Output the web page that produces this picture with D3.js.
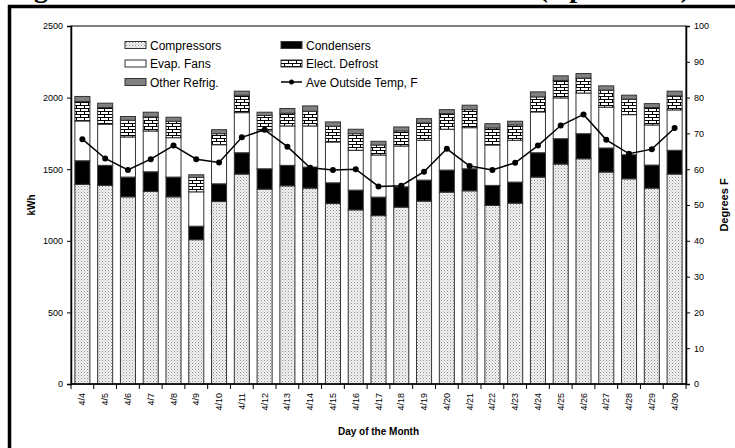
<!DOCTYPE html>
<html>
<head>
<meta charset="utf-8">
<script src="https://cdn.jsdelivr.net/npm/d3@7"></script>
<style>
  html, body { margin: 0; padding: 0; background: #fff; }
  svg { display: block; }
  text { font-family: "Liberation Sans", Arial, sans-serif; fill: #000; }
</style>
</head>
<body>
<svg id="chart" width="735" height="448"></svg>
<script>
// ---- data ----
const days = ["4/4","4/5","4/6","4/7","4/8","4/9","4/10","4/11","4/12","4/13","4/14","4/15","4/16","4/17","4/18","4/19","4/20","4/21","4/22","4/23","4/24","4/25","4/26","4/27","4/28","4/29","4/30"];
const compressors = [1394,1387,1307,1345,1307,1008,1274,1466,1361,1384,1368,1260,1216,1176,1235,1277,1340,1349,1247,1263,1445,1536,1573,1480,1433,1368,1466];
const condensers  = [165,140,138,137,138,94,124,149,142,143,147,145,138,129,142,147,154,154,140,147,170,177,175,168,168,161,166];
const evapFans    = [278,287,280,285,275,240,273,280,264,275,287,285,278,294,285,278,285,287,282,292,285,285,284,285,280,280,282];
const elecDefrost = [136,117,117,98,115,101,77,122,108,89,103,110,116,70,105,121,109,126,119,107,105,122,104,119,108,122,98];
const otherRefrig = [35,30,26,33,28,18,28,28,23,33,37,30,31,26,28,30,28,31,30,26,35,32,32,30,28,27,33];
const aveTemp     = [68.4,63.0,59.8,62.8,66.6,62.8,61.9,68.9,71.0,66.3,60.4,59.8,60.0,55.2,55.4,59.3,65.7,60.9,59.8,61.8,66.6,72.2,75.3,68.2,64.3,65.6,71.5];
const seriesNames = ["Compressors","Condensers","Evap. Fans","Elect. Defrost","Other Refrig."];
const lineName = "Ave Outside Temp, F";
const kwhTicks = [0,500,1000,1500,2000,2500];
const degTicks = [0,10,20,30,40,50,60,70,80,90,100];
const titleText = "Figure 4. Total Electric Loads at the Store (April 2003)";

// ---- layout ----
const svg = d3.select("#chart");
const L = 71, R = 686, T = 26, B = 384;

const defs = svg.append("defs");
const pStip = defs.append("pattern").attr("id","stip").attr("patternUnits","userSpaceOnUse")
  .attr("width",3).attr("height",3);
pStip.append("rect").attr("width",3).attr("height",3).attr("fill","#f4f4f4");
pStip.append("rect").attr("x",0).attr("y",0).attr("width",1).attr("height",1).attr("fill","#8a8a8a");
pStip.append("rect").attr("x",1.5).attr("y",1.5).attr("width",1).attr("height",1).attr("fill","#a8a8a8");
const pBrick = defs.append("pattern").attr("id","brick").attr("patternUnits","userSpaceOnUse")
  .attr("width",8).attr("height",6);
pBrick.append("rect").attr("width",8).attr("height",6).attr("fill","#fff");
pBrick.append("path").attr("d","M0,0.5H8M0,3.5H8M0.5,0.5V3.5M4.5,3.5V6.5")
  .attr("stroke","#000").attr("stroke-width",1).attr("fill","none");

const fills = ["url(#stip)","#000","#fff","url(#brick)","#808080"];

// title (mostly above the page, only descenders peek through)
svg.append("text").attr("x",8).attr("y",-3)
  .attr("textLength",682).attr("lengthAdjust","spacing")
  .style("font-family","'Liberation Serif', 'Times New Roman', serif")
  .style("font-weight","bold").style("font-size","28px")
  .text(titleText);

// outer frame
svg.append("rect").attr("x",9.5).attr("y",6.5).attr("width",800).attr("height",600)
  .attr("fill","none").attr("stroke","#000").attr("stroke-width",3.5);

const x = d3.scaleBand().domain(days).range([L, R]).paddingInner(0.34).paddingOuter(0.17);
const xb = d3.scaleBand().domain(days).range([L, R]);
const y = d3.scaleLinear().domain([0,2500]).range([B, T]);
const y2 = d3.scaleLinear().domain([0,100]).range([B, T]);

svg.append("rect").attr("x",L).attr("y",T).attr("width",R-L).attr("height",B-T)
  .attr("fill","none").attr("stroke","#000").attr("stroke-width",1);

const rows = days.map((d,i)=>({day:d, "Compressors":compressors[i], "Condensers":condensers[i],
  "Evap. Fans":evapFans[i], "Elect. Defrost":elecDefrost[i], "Other Refrig.":otherRefrig[i]}));
const stack = d3.stack().keys(seriesNames)(rows);
stack.forEach((s,k)=>{
  svg.append("g").selectAll("rect").data(s).join("rect")
    .attr("x", d=>x(d.data.day)).attr("width", x.bandwidth())
    .attr("y", d=>y(d[1])).attr("height", d=>y(d[0])-y(d[1]))
    .attr("fill", fills[k]).attr("stroke","#333").attr("stroke-width",1);
});

const cx = d => xb(d) + xb.bandwidth()/2;
svg.append("path").datum(aveTemp)
  .attr("d", d3.line().x((v,i)=>cx(days[i])).y(v=>y2(v)))
  .attr("fill","none").attr("stroke","#000").attr("stroke-width",1.5);
svg.append("g").selectAll("circle").data(aveTemp).join("circle")
  .attr("cx",(v,i)=>cx(days[i])).attr("cy",v=>y2(v)).attr("r",3).attr("fill","#000");

const ga = svg.append("g").attr("transform",`translate(${L},0)`)
  .call(d3.axisLeft(y).tickValues(kwhTicks).tickFormat(d3.format("d")).tickSize(4).tickPadding(4));
ga.select(".domain").attr("stroke","#000").attr("stroke-width",1.5);
ga.selectAll("text").style("font-size","9px");
const gr = svg.append("g").attr("transform",`translate(${R},0)`)
  .call(d3.axisRight(y2).tickValues(degTicks).tickFormat(d3.format("d")).tickSize(4).tickPadding(4));
gr.select(".domain").attr("stroke","#000").attr("stroke-width",1.5);
gr.selectAll("text").style("font-size","9px");

svg.append("line").attr("x1",L).attr("x2",R).attr("y1",B).attr("y2",B).attr("stroke","#000").attr("stroke-width",1.5);
const bounds = days.map(d=>xb(d)).concat([R]);
svg.append("g").selectAll("line").data(bounds).join("line")
  .attr("x1",d=>d).attr("x2",d=>d).attr("y1",B).attr("y2",B+5).attr("stroke","#000");
svg.append("g").selectAll("text").data(days).join("text")
  .attr("transform",d=>`translate(${cx(d)+3},${B+9}) rotate(-90)`)
  .attr("text-anchor","end").style("font-size","9px").text(d=>d);

svg.append("text").attr("transform",`translate(35,205) rotate(-90)`)
  .attr("text-anchor","middle").style("font-size","10px").style("font-weight","bold").text("kWh");
svg.append("text").attr("transform",`translate(728,205) rotate(-90)`)
  .attr("text-anchor","middle").style("font-size","11px").style("font-weight","bold").text("Degrees F");
svg.append("text").attr("x",(L+R)/2).attr("y",435)
  .attr("text-anchor","middle").style("font-size","10px").style("font-weight","bold").text("Day of the Month");

const legItems = [
  {name:seriesNames[0], fill:fills[0], col:0, row:0},
  {name:seriesNames[1], fill:fills[1], col:1, row:0},
  {name:seriesNames[2], fill:fills[2], col:0, row:1},
  {name:seriesNames[3], fill:fills[3], col:1, row:1},
  {name:seriesNames[4], fill:fills[4], col:0, row:2},
];
const colX = [125, 281], rowY = [45, 63.5, 82];
const lg = svg.append("g");
legItems.forEach(it=>{
  lg.append("rect").attr("x",colX[it.col]).attr("y",rowY[it.row]-3.5).attr("width",21).attr("height",7)
    .attr("fill",it.fill).attr("stroke","#333").attr("stroke-width",1);
  lg.append("text").attr("x",colX[it.col]+25).attr("y",rowY[it.row]+4.5)
    .style("font-size","12px").text(it.name);
});
lg.append("line").attr("x1",colX[1]).attr("x2",colX[1]+21).attr("y1",rowY[2]).attr("y2",rowY[2])
  .attr("stroke","#000").attr("stroke-width",1.5);
lg.append("circle").attr("cx",colX[1]+10.5).attr("cy",rowY[2]).attr("r",2.5).attr("fill","#000");
lg.append("text").attr("x",colX[1]+25).attr("y",rowY[2]+4.5).style("font-size","12px").text(lineName);
</script>
</body>
</html>
